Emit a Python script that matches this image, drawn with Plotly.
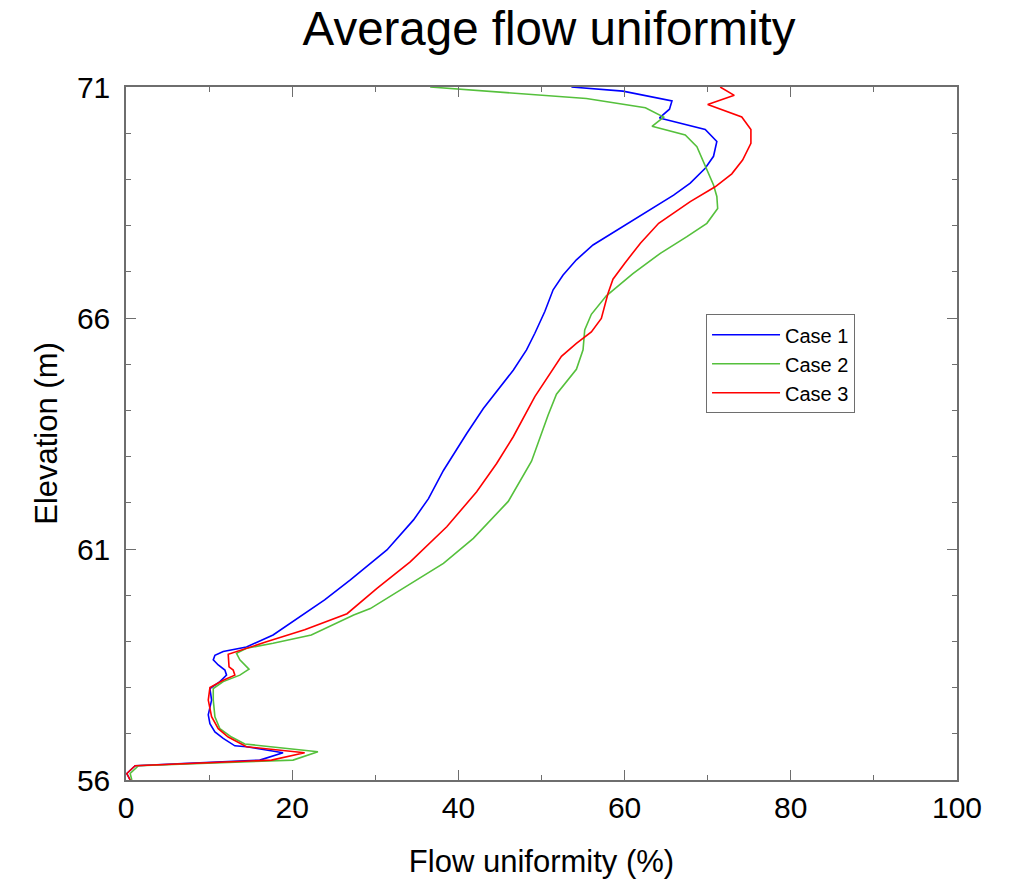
import plotly.graph_objects as go

# Case 1 (blue)
case1_x = [53.6, 59.8, 65.7, 65.4, 64.2, 69.7, 71.1, 70.7, 69.7, 67.9, 65.9, 62.7, 59.0, 56.2,
           54.2, 52.6, 51.4, 50.4, 49.2, 48.2, 46.6, 45.0, 43.0, 41.0, 38.2, 36.4, 34.6, 31.4,
           27.0, 23.9, 20.9, 17.7, 14.5, 11.7, 10.7, 10.5, 11.1, 11.9, 12.1, 11.3, 10.1, 10.3,
           9.9, 10.1, 10.7, 11.7, 13.1, 14.5, 18.9, 16.1, 1.1, 0.1, 0.5]
case1_y = [71.0, 70.91, 70.7, 70.52, 70.33, 70.08, 69.82, 69.5, 69.24, 68.92, 68.66, 68.30, 67.90, 67.58,
           67.26, 66.93, 66.61, 66.14, 65.67, 65.31, 64.87, 64.51, 64.04, 63.50, 62.70, 62.09, 61.63, 60.98,
           60.33, 59.90, 59.53, 59.14, 58.88, 58.78, 58.70, 58.60, 58.49, 58.38, 58.27, 58.13, 57.98, 57.73,
           57.41, 57.22, 57.04, 56.90, 56.74, 56.72, 56.59, 56.43, 56.31, 56.14, 56.0]

# Case 2 (green)
case2_x = [36.6, 55.4, 62.5, 64.7, 63.3, 67.3, 68.7, 69.7, 70.7, 71.1, 71.2, 69.9, 67.5, 64.3,
           61.0, 57.8, 56.0, 55.2, 55.0, 54.2, 51.8, 50.8, 48.8, 46.0, 41.8, 38.2, 33.4, 29.4,
           27.4, 22.3, 17.7, 14.5, 13.3, 13.7, 14.8, 13.7, 11.7, 10.5, 10.5, 10.7, 11.3, 12.7,
           14.3, 23.1, 20.1, 1.5, 0.5, 0.7]
case2_y = [71.0, 70.75, 70.55, 70.35, 70.15, 69.96, 69.71, 69.28, 68.88, 68.63, 68.37, 68.05, 67.76, 67.40,
           66.96, 66.48, 66.08, 65.74, 65.31, 64.89, 64.35, 63.90, 62.90, 62.03, 61.23, 60.69, 60.15, 59.71,
           59.57, 59.14, 58.96, 58.85, 58.74, 58.60, 58.40, 58.27, 58.13, 57.98, 57.73, 57.37, 57.11, 56.93,
           56.78, 56.61, 56.43, 56.31, 56.14, 56.0]

# Case 3 (red)
case3_x = [71.5, 73.2, 70.0, 74.1, 75.2, 75.2, 74.2, 72.9, 70.9, 67.9, 64.1, 61.9, 60.0, 58.6,
           58.0, 57.2, 56.0, 54.2, 52.4, 51.0, 49.2, 46.6, 44.6, 42.2, 38.6, 34.2, 30.2, 26.6,
           21.5, 16.9, 13.7, 12.3, 12.4, 12.9, 13.1, 11.7, 10.1, 9.9, 10.3, 11.1, 12.3, 14.5,
           21.5, 17.5, 1.1, 0.1, 0.5]
case3_y = [71.0, 70.82, 70.62, 70.35, 70.08, 69.78, 69.42, 69.12, 68.84, 68.52, 68.05, 67.62, 67.18, 66.84,
           66.53, 65.99, 65.70, 65.45, 65.17, 64.80, 64.30, 63.43, 62.85, 62.24, 61.48, 60.72, 60.15, 59.60,
           59.25, 58.99, 58.81, 58.72, 58.45, 58.38, 58.27, 58.16, 58.00, 57.73, 57.37, 57.11, 56.93, 56.72,
           56.59, 56.43, 56.31, 56.14, 56.0]

series_names = ["Case 1", "Case 2", "Case 3"]
series_colors = ["#0000ff", "#55c03c", "#ff0000"]

x_ticks = [0, 20, 40, 60, 80, 100]
y_ticks = [56, 61, 66, 71]

FONT = "Liberation Sans, Arial, Helvetica, sans-serif"

fig = go.Figure()
for name, xs, ys, col in zip(series_names,
                             [case1_x, case2_x, case3_x],
                             [case1_y, case2_y, case3_y],
                             series_colors):
    fig.add_trace(go.Scatter(x=xs, y=ys, mode="lines", name=name,
                             line=dict(color=col, width=1.6)))

axis_common = dict(
    showline=True, linecolor="#6e6e6e", linewidth=1.5, mirror="allticks",
    ticks="inside", ticklen=10, tickcolor="#6e6e6e", tickwidth=1,
    showgrid=False, zeroline=False, automargin=False,
    tickfont=dict(family=FONT, size=30, color="black"),
)

fig.update_xaxes(range=[0, 100], tickvals=x_ticks,
                 minor=dict(dtick=10, ticks="inside", ticklen=5, tickcolor="#6e6e6e", showgrid=False),
                 title=dict(text="Flow uniformity (%)", font=dict(family=FONT, size=31, color="black"),
                            standoff=28),
                 **axis_common)
fig.update_yaxes(range=[56, 71], tickvals=y_ticks,
                 minor=dict(dtick=1, tick0=56, ticks="inside", ticklen=5, tickcolor="#6e6e6e", showgrid=False),
                 title=dict(text="Elevation (m)", font=dict(family=FONT, size=31, color="black"),
                            standoff=10),
                 ticklabelstandoff=8,
                 **axis_common)

fig.update_layout(
    width=1011, height=880,
    margin=dict(l=126, r=54, t=87, b=100),
    plot_bgcolor="white", paper_bgcolor="white",
    title=dict(text="Average flow uniformity", x=0.543, xanchor="center",
               y=0.968, yanchor="middle",
               font=dict(family=FONT, size=47.5, color="black")),
    legend=dict(x=0.698, y=0.672, xanchor="left", yanchor="top",
                bordercolor="#6e6e6e", borderwidth=1, bgcolor="white",
                font=dict(family=FONT, size=20, color="black"),
                itemwidth=68, tracegroupgap=0),
    showlegend=True,
)

fig.write_html("out.html")
